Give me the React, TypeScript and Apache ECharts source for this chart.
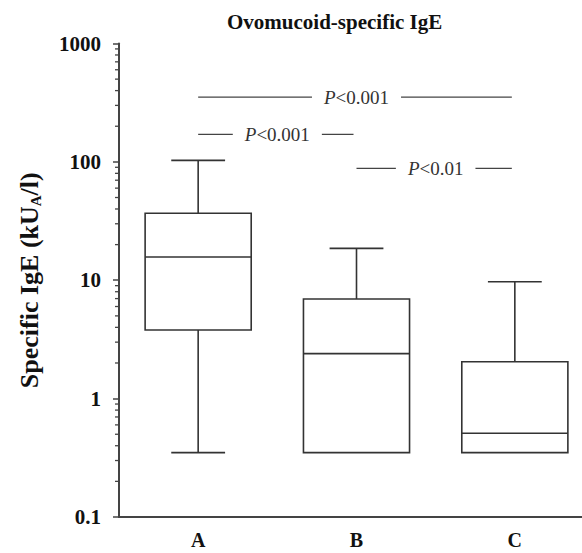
import React, { useEffect, useRef } from "react";
import * as echarts from "echarts";

const categories = ["A", "B", "C"];
const whiskerLow = [0.35, 0.35, 0.35];
const quartile1 = [3.8, 0.35, 0.35];
const medians = [15.7, 2.4, 0.51];
const quartile3 = [36.8, 6.95, 2.05];
const whiskerHigh = [103, 18.6, 9.7];

const yTickLabels = ["0.1", "1", "10", "100", "1000"];
const minorTickValues = [
  0.2, 0.3, 0.4, 0.5, 0.6, 0.7, 0.8, 0.9,
  2, 3, 4, 5, 6, 7, 8, 9,
  20, 30, 40, 50, 60, 70, 80, 90,
  200, 300, 400, 500, 600, 700, 800, 900,
];

const compFrom = [0, 0, 1];
const compTo = [2, 1, 2];
const compLevel = [353, 171, 88];
const compLabel = ["P<0.001", "P<0.001", "P<0.01"];

const SERIF = "Liberation Serif";

export default function App() {
  const ref = useRef<HTMLDivElement>(null);
  useEffect(() => {
    if (!ref.current) return;
    const chart = echarts.init(ref.current, null, { renderer: "svg" });
    const boxData = categories.map((_, i) => [
      i,
      whiskerLow[i],
      quartile1[i],
      medians[i],
      quartile3[i],
      whiskerHigh[i],
    ]);
    const compData = compFrom.map((f, k) => [f, compTo[k], compLevel[k]]);
    const stroke = "#333";
    chart.setOption({
      animation: false,
      backgroundColor: "#fff",
      title: {
        text: "Ovomucoid-specific IgE",
        left: 222,
        top: 6,
        textStyle: { fontFamily: SERIF, fontWeight: "bold", fontSize: 21, color: "#111" },
      },
      grid: {
        left: 119,
        width: 475,
        top: 43.5,
        bottom: 36,
        containLabel: false,
        outerBoundsMode: "none",
      },
      xAxis: {
        type: "category",
        data: categories,
        boundaryGap: true,
        axisLine: { lineStyle: { color: "#444", width: 2 } },
        axisTick: { alignWithLabel: true, length: 5, lineStyle: { color: "#444", width: 1.5 } },
        axisLabel: { margin: 13, fontFamily: SERIF, fontWeight: "bold", fontSize: 20, color: "#111" },
        splitLine: { show: false },
      },
      yAxis: {
        type: "log",
        logBase: 10,
        min: 0.1,
        max: 1000,
        name: "Specific IgE (kU{sub|A}/l)",
        nameLocation: "middle",
        nameGap: 76,
        nameRotate: 90,
        nameTextStyle: {
          fontFamily: SERIF,
          fontWeight: "bold",
          fontSize: 26,
          color: "#111",
          rich: {
            sub: {
              fontFamily: SERIF,
              fontWeight: "bold",
              fontSize: 15,
              color: "#111",
              padding: [12, 0, 0, 0],
            },
          },
        },
        axisLine: { show: true, lineStyle: { color: "#444", width: 2 } },
        axisTick: { show: true, length: 6, lineStyle: { color: "#444", width: 1.5 } },
        axisLabel: {
          margin: 18,
          fontFamily: SERIF,
          fontWeight: "bold",
          fontSize: 21,
          color: "#111",
          formatter: (v: number) => {
            const idx = Math.round(Math.log10(v)) + 1;
            return yTickLabels[idx] ?? String(v);
          },
        },
        splitLine: { show: false },
      },
      series: [
        {
          type: "custom",
          name: "minorTicks",
          clip: false,
          silent: true,
          data: minorTickValues.map((v) => [0, v]),
          encode: { x: 0, y: 1 },
          renderItem: (params: any, api: any) => {
            const y = api.coord([0, api.value(1)])[1];
            const x0 = params.coordSys.x;
            return {
              type: "line",
              shape: { x1: x0 - 4, y1: y, x2: x0, y2: y },
              style: { stroke: "#444", lineWidth: 1.3 },
            };
          },
        },
        {
          type: "custom",
          name: "boxes",
          clip: false,
          data: boxData,
          encode: { x: 0, y: [1, 2, 3, 4, 5] },
          renderItem: (params: any, api: any) => {
            const i = api.value(0);
            const lo = api.coord([i, api.value(1)]);
            const q1 = api.coord([i, api.value(2)]);
            const md = api.coord([i, api.value(3)]);
            const q3 = api.coord([i, api.value(4)]);
            const hi = api.coord([i, api.value(5)]);
            const band = params.coordSys.width / categories.length;
            const bw = band * 0.67;
            const cw = band * 0.34;
            const x = q1[0];
            const ls = { stroke, lineWidth: 1.6 };
            const children: any[] = [
              { type: "line", shape: { x1: x, y1: q3[1], x2: x, y2: hi[1] }, style: ls },
              { type: "line", shape: { x1: x - cw / 2, y1: hi[1], x2: x + cw / 2, y2: hi[1] }, style: ls },
            ];
            if (lo[1] - q1[1] > 1) {
              children.push(
                { type: "line", shape: { x1: x, y1: q1[1], x2: x, y2: lo[1] }, style: ls },
                { type: "line", shape: { x1: x - cw / 2, y1: lo[1], x2: x + cw / 2, y2: lo[1] }, style: ls }
              );
            }
            children.push(
              {
                type: "rect",
                shape: { x: x - bw / 2, y: q3[1], width: bw, height: q1[1] - q3[1] },
                style: { fill: "#fff", stroke, lineWidth: 1.6 },
              },
              { type: "line", shape: { x1: x - bw / 2, y1: md[1], x2: x + bw / 2, y2: md[1] }, style: ls }
            );
            return { type: "group", children };
          },
        },
        {
          type: "custom",
          name: "comparisons",
          clip: false,
          silent: true,
          data: compData,
          encode: { x: [0, 1], y: 2 },
          renderItem: (params: any, api: any) => {
            const k = params.dataIndex;
            const a = api.coord([api.value(0), api.value(2)]);
            const b = api.coord([api.value(1), api.value(2)]);
            const x1 = a[0];
            const x2 = b[0] - 3;
            const y = a[1];
            const mid = (a[0] + b[0]) / 2;
            const label = compLabel[k];
            const rest = label.slice(1);
            const pW = 11.6;
            const restW = (0.564 + 0.25 + 0.5 * (rest.length - 2)) * 19;
            const textW = pW + restW;
            const half = textW / 2 + 12;
            const tx = mid - textW / 2;
            const ls = { stroke: "#444", lineWidth: 1.3 };
            return {
              type: "group",
              children: [
                { type: "line", shape: { x1, y1: y, x2: mid - half, y2: y }, style: ls },
                { type: "line", shape: { x1: mid + half, y1: y, x2, y2: y }, style: ls },
                {
                  type: "text",
                  style: {
                    text: label.charAt(0),
                    x: tx,
                    y: y,
                    align: "left",
                    verticalAlign: "middle",
                    fill: "#333",
                    font: "italic 19px Liberation Serif",
                  },
                },
                {
                  type: "text",
                  style: {
                    text: rest,
                    x: tx + pW,
                    y: y,
                    align: "left",
                    verticalAlign: "middle",
                    fill: "#333",
                    font: "19px Liberation Serif",
                  },
                },
              ],
            };
          },
        },
      ],
    });
    return () => chart.dispose();
  }, []);
  return (
    <div
      ref={ref}
      style={{ position: "absolute", left: 0, top: 0, width: 582, height: 553 }}
    />
  );
}
